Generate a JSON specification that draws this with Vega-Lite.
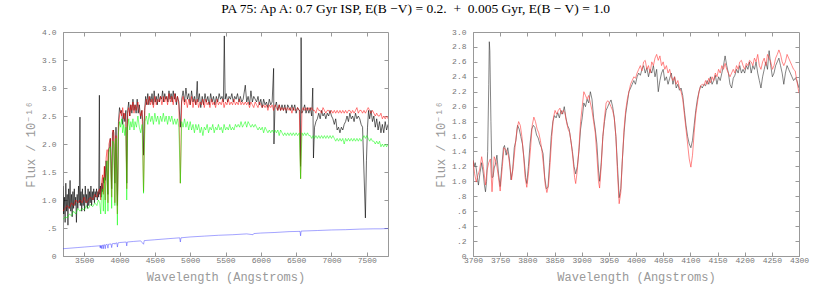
{
"$schema": "https://vega.github.io/schema/vega-lite/v6.json",
"autosize": {"type": "pad"},
"padding": {"left": 24, "top": 2, "right": 20, "bottom": 2},
"bounds": "flush",
"spacing": 85,
"title": {"text": "PA 75: Ap A: 0.7 Gyr ISP, E(B −V) = 0.2.\u00a0\u00a0+\u00a0\u00a00.005 Gyr, E(B − V) = 1.0", "anchor": "middle", "font": "Liberation Serif", "fontSize": 13.5, "fontWeight": "normal", "color": "#000", "offset": 12, "dx": -1},
"config": {
  "view": {"stroke": "#999", "strokeWidth": 1},
  "axis": {"domainColor": "#999", "tickColor": "#999", "tickSize": -4, "labelColor": "#777", "labelFont": "Liberation Mono", "labelFontSize": 8, "labelFlush": false, "labelOverlap": false, "grid": false, "titleFont": "Liberation Mono, DejaVu Sans Mono", "titleFontSize": 12, "titleFontWeight": "normal", "titleColor": "#999"}
},
"datasets": {
"obs": [
{"w":3200,"f":1.25},{"w":3210,"f":0.75},{"w":3220,"f":1.05},{"w":3230,"f":0.6},{"w":3240,"f":1.3},{"w":3250,"f":0.8},{"w":3260,"f":1.1},{"w":3270,"f":0.55},{"w":3280,"f":1.2},{"w":3290,"f":0.85},{"w":3300,"f":1.35},{"w":3310,"f":0.8},{"w":3320,"f":1.1},{"w":3330,"f":0.7},{"w":3340,"f":1.15},{"w":3350,"f":0.85},{"w":3360,"f":1.2},{"w":3370,"f":0.9},{"w":3380,"f":1.05},{"w":3390,"f":0.6},{"w":3400,"f":1.1},{"w":3410,"f":0.85},{"w":3420,"f":1.25},{"w":3430,"f":0.95},{"w":3440,"f":2.48},{"w":3445,"f":0.9},{"w":3455,"f":1.15},{"w":3465,"f":0.8},{"w":3475,"f":1.2},{"w":3485,"f":0.9},{"w":3495,"f":1.1},{"w":3505,"f":0.8},{"w":3515,"f":1.25},{"w":3525,"f":0.95},{"w":3535,"f":1.1},{"w":3545,"f":0.85},{"w":3555,"f":1.2},{"w":3565,"f":0.9},{"w":3575,"f":1.15},{"w":3585,"f":0.95},{"w":3595,"f":1.25},{"w":3605,"f":0.9},{"w":3615,"f":1.15},{"w":3625,"f":1.0},{"w":3635,"f":1.2},{"w":3645,"f":0.95},{"w":3655,"f":1.15},{"w":3665,"f":1.05},{"w":3675,"f":1.2},{"w":3685,"f":1.0},{"w":3695,"f":1.15},{"w":3705,"f":1.05},{"w":3715,"f":2.87},{"w":3720,"f":1.1},{"w":3730,"f":1.25},{"w":3740,"f":1.05},{"w":3750,"f":1.3},{"w":3760,"f":1.15},{"w":3770,"f":1.4},{"w":3780,"f":1.3},{"w":3790,"f":1.6},{"w":3800,"f":1.35},{"w":3810,"f":1.7},{"w":3820,"f":1.5},{"w":3835,"f":1.1},{"w":3845,"f":1.9},{"w":3860,"f":1.95},{"w":3870,"f":2.1},{"w":3889,"f":1.2},{"w":3900,"f":2.2},{"w":3915,"f":2.25},{"w":3934,"f":1.3},{"w":3950,"f":2.3},{"w":3970,"f":0.9},{"w":3985,"f":2.4},{"w":4000,"f":2.65},{"w":4015,"f":2.55},{"w":4030,"f":2.6},{"w":4045,"f":2.35},{"w":4060,"f":2.55},{"w":4075,"f":2.4},{"w":4090,"f":2.6},{"w":4102,"f":1.3},{"w":4115,"f":2.6},{"w":4130,"f":2.75},{"w":4145,"f":2.5},{"w":4160,"f":2.7},{"w":4175,"f":2.55},{"w":4190,"f":2.8},{"w":4205,"f":2.6},{"w":4220,"f":2.7},{"w":4235,"f":2.55},{"w":4250,"f":2.8},{"w":4265,"f":2.55},{"w":4280,"f":2.7},{"w":4300,"f":2.45},{"w":4315,"f":2.6},{"w":4330,"f":2.4},{"w":4340,"f":1.8},{"w":4355,"f":2.6},{"w":4370,"f":2.85},{"w":4385,"f":2.7},{"w":4400,"f":2.9},{"w":4415,"f":2.7},{"w":4430,"f":2.85},{"w":4445,"f":2.75},{"w":4460,"f":2.9},{"w":4475,"f":2.7},{"w":4490,"f":2.95},{"w":4505,"f":2.75},{"w":4520,"f":2.85},{"w":4535,"f":2.7},{"w":4550,"f":2.9},{"w":4565,"f":2.75},{"w":4580,"f":2.85},{"w":4595,"f":2.8},{"w":4610,"f":2.95},{"w":4625,"f":2.75},{"w":4640,"f":2.9},{"w":4655,"f":2.8},{"w":4670,"f":2.85},{"w":4685,"f":2.75},{"w":4700,"f":2.95},{"w":4715,"f":2.8},{"w":4730,"f":2.9},{"w":4745,"f":2.75},{"w":4760,"f":2.95},{"w":4775,"f":2.8},{"w":4790,"f":2.9},{"w":4805,"f":2.7},{"w":4820,"f":2.85},{"w":4840,"f":2.75},{"w":4861,"f":2.3},{"w":4880,"f":2.8},{"w":4900,"f":2.95},{"w":4920,"f":2.75},{"w":4940,"f":3.0},{"w":4960,"f":2.8},{"w":4980,"f":2.9},{"w":5000,"f":2.7},{"w":5020,"f":2.95},{"w":5040,"f":2.75},{"w":5060,"f":2.85},{"w":5080,"f":2.7},{"w":5100,"f":3.12},{"w":5110,"f":2.75},{"w":5130,"f":2.9},{"w":5150,"f":2.65},{"w":5170,"f":2.85},{"w":5190,"f":2.7},{"w":5210,"f":2.9},{"w":5230,"f":2.75},{"w":5250,"f":2.85},{"w":5270,"f":2.7},{"w":5290,"f":2.9},{"w":5310,"f":2.75},{"w":5330,"f":2.85},{"w":5350,"f":2.7},{"w":5370,"f":2.85},{"w":5390,"f":2.75},{"w":5410,"f":2.9},{"w":5430,"f":2.8},{"w":5450,"f":2.85},{"w":5470,"f":2.75},{"w":5483,"f":3.93},{"w":5495,"f":2.8},{"w":5510,"f":2.9},{"w":5530,"f":2.75},{"w":5550,"f":2.85},{"w":5570,"f":2.8},{"w":5590,"f":2.9},{"w":5610,"f":2.75},{"w":5630,"f":2.85},{"w":5650,"f":2.8},{"w":5670,"f":2.9},{"w":5690,"f":2.75},{"w":5710,"f":2.85},{"w":5730,"f":2.75},{"w":5750,"f":2.8},{"w":5780,"f":3.05},{"w":5800,"f":2.75},{"w":5820,"f":2.85},{"w":5840,"f":2.7},{"w":5860,"f":2.95},{"w":5880,"f":2.75},{"w":5900,"f":2.85},{"w":5920,"f":2.8},{"w":5940,"f":2.75},{"w":5960,"f":2.85},{"w":5980,"f":2.7},{"w":6000,"f":2.8},{"w":6020,"f":2.65},{"w":6040,"f":2.8},{"w":6060,"f":2.7},{"w":6080,"f":2.75},{"w":6100,"f":2.65},{"w":6120,"f":2.8},{"w":6140,"f":2.7},{"w":6160,"f":2.75},{"w":6181,"f":3.35},{"w":6186,"f":2.0},{"w":6200,"f":2.65},{"w":6220,"f":2.75},{"w":6240,"f":2.6},{"w":6260,"f":2.7},{"w":6280,"f":2.6},{"w":6300,"f":2.7},{"w":6320,"f":2.6},{"w":6340,"f":2.7},{"w":6360,"f":2.55},{"w":6380,"f":2.7},{"w":6400,"f":2.65},{"w":6420,"f":2.6},{"w":6440,"f":2.7},{"w":6460,"f":2.6},{"w":6480,"f":2.7},{"w":6500,"f":2.55},{"w":6520,"f":2.65},{"w":6540,"f":2.6},{"w":6552,"f":2.6},{"w":6562,"f":1.6},{"w":6570,"f":3.9},{"w":6580,"f":2.55},{"w":6600,"f":2.6},{"w":6620,"f":2.7},{"w":6640,"f":2.55},{"w":6660,"f":2.65},{"w":6680,"f":2.55},{"w":6700,"f":2.65},{"w":6720,"f":2.5},{"w":6735,"f":3.0},{"w":6745,"f":1.75},{"w":6760,"f":2.3},{"w":6780,"f":2.4},{"w":6800,"f":2.45},{"w":6820,"f":2.55},{"w":6840,"f":2.45},{"w":6860,"f":2.6},{"w":6880,"f":2.5},{"w":6900,"f":2.55},{"w":6920,"f":2.45},{"w":6940,"f":2.55},{"w":6960,"f":2.5},{"w":6980,"f":2.6},{"w":7000,"f":2.5},{"w":7020,"f":2.45},{"w":7040,"f":2.35},{"w":7060,"f":2.45},{"w":7080,"f":2.25},{"w":7100,"f":2.3},{"w":7120,"f":2.2},{"w":7140,"f":2.3},{"w":7160,"f":2.25},{"w":7180,"f":2.35},{"w":7200,"f":2.4},{"w":7220,"f":2.5},{"w":7240,"f":2.4},{"w":7260,"f":2.55},{"w":7280,"f":2.45},{"w":7300,"f":2.5},{"w":7320,"f":2.4},{"w":7340,"f":2.55},{"w":7360,"f":2.45},{"w":7380,"f":2.5},{"w":7400,"f":2.45},{"w":7420,"f":2.35},{"w":7440,"f":2.3},{"w":7460,"f":1.5},{"w":7480,"f":0.68},{"w":7495,"f":1.7},{"w":7510,"f":2.3},{"w":7525,"f":2.6},{"w":7540,"f":2.45},{"w":7560,"f":2.6},{"w":7580,"f":2.4},{"w":7600,"f":2.5},{"w":7620,"f":2.3},{"w":7640,"f":2.45},{"w":7660,"f":2.25},{"w":7680,"f":2.4},{"w":7700,"f":2.2},{"w":7720,"f":2.35},{"w":7740,"f":2.2},{"w":7760,"f":2.4},{"w":7780,"f":2.25},{"w":7800,"f":2.35}
],
"mod": [
{"w":3200,"f":0.8},{"w":3230,"f":0.85},{"w":3260,"f":0.9},{"w":3290,"f":0.85},{"w":3320,"f":0.95},{"w":3350,"f":0.9},{"w":3380,"f":1.0},{"w":3410,"f":0.95},{"w":3440,"f":1.0},{"w":3470,"f":0.95},{"w":3500,"f":1.05},{"w":3530,"f":0.95},{"w":3560,"f":1.0},{"w":3590,"f":1.05},{"w":3620,"f":1.0},{"w":3650,"f":1.1},{"w":3680,"f":1.05},{"w":3700,"f":1.15},{"w":3720,"f":1.2},{"w":3734,"f":1.0},{"w":3745,"f":1.3},{"w":3760,"f":1.45},{"w":3771,"f":1.1},{"w":3785,"f":1.6},{"w":3798,"f":1.0},{"w":3810,"f":1.75},{"w":3825,"f":1.9},{"w":3836,"f":0.95},{"w":3850,"f":2.0},{"w":3870,"f":2.1},{"w":3889,"f":1.05},{"w":3905,"f":2.25},{"w":3920,"f":2.2},{"w":3934,"f":0.95},{"w":3950,"f":2.15},{"w":3970,"f":0.75},{"w":3985,"f":2.3},{"w":4000,"f":2.5},{"w":4015,"f":2.6},{"w":4030,"f":2.5},{"w":4045,"f":2.65},{"w":4060,"f":2.45},{"w":4075,"f":2.55},{"w":4090,"f":2.4},{"w":4102,"f":1.2},{"w":4115,"f":2.55},{"w":4130,"f":2.65},{"w":4145,"f":2.5},{"w":4160,"f":2.7},{"w":4175,"f":2.6},{"w":4190,"f":2.75},{"w":4205,"f":2.55},{"w":4220,"f":2.7},{"w":4240,"f":2.6},{"w":4260,"f":2.75},{"w":4280,"f":2.6},{"w":4300,"f":2.5},{"w":4320,"f":2.6},{"w":4340,"f":1.15},{"w":4360,"f":2.65},{"w":4380,"f":2.8},{"w":4400,"f":2.7},{"w":4420,"f":2.85},{"w":4440,"f":2.7},{"w":4460,"f":2.8},{"w":4480,"f":2.65},{"w":4500,"f":2.85},{"w":4520,"f":2.7},{"w":4540,"f":2.8},{"w":4560,"f":2.75},{"w":4580,"f":2.85},{"w":4600,"f":2.7},{"w":4620,"f":2.85},{"w":4640,"f":2.75},{"w":4660,"f":2.85},{"w":4680,"f":2.7},{"w":4700,"f":2.9},{"w":4720,"f":2.75},{"w":4740,"f":2.85},{"w":4760,"f":2.7},{"w":4780,"f":2.9},{"w":4800,"f":2.75},{"w":4820,"f":2.85},{"w":4840,"f":2.7},{"w":4861,"f":1.3},{"w":4880,"f":2.75},{"w":4900,"f":2.85},{"w":4920,"f":2.7},{"w":4940,"f":2.8},{"w":4960,"f":2.65},{"w":4980,"f":2.8},{"w":5000,"f":2.7},{"w":5020,"f":2.85},{"w":5040,"f":2.65},{"w":5060,"f":2.8},{"w":5080,"f":2.7},{"w":5100,"f":2.8},{"w":5120,"f":2.65},{"w":5140,"f":2.75},{"w":5160,"f":2.7},{"w":5180,"f":2.8},{"w":5200,"f":2.65},{"w":5220,"f":2.8},{"w":5240,"f":2.7},{"w":5260,"f":2.75},{"w":5280,"f":2.65},{"w":5300,"f":2.8},{"w":5320,"f":2.7},{"w":5340,"f":2.75},{"w":5360,"f":2.65},{"w":5380,"f":2.8},{"w":5400,"f":2.7},{"w":5420,"f":2.75},{"w":5440,"f":2.7},{"w":5460,"f":2.8},{"w":5480,"f":2.65},{"w":5500,"f":2.75},{"w":5520,"f":2.7},{"w":5540,"f":2.8},{"w":5560,"f":2.7},{"w":5580,"f":2.75},{"w":5600,"f":2.7},{"w":5620,"f":2.8},{"w":5640,"f":2.7},{"w":5660,"f":2.75},{"w":5680,"f":2.7},{"w":5700,"f":2.8},{"w":5720,"f":2.7},{"w":5740,"f":2.75},{"w":5760,"f":2.7},{"w":5780,"f":2.75},{"w":5800,"f":2.7},{"w":5820,"f":2.75},{"w":5840,"f":2.65},{"w":5860,"f":2.75},{"w":5880,"f":2.7},{"w":5900,"f":2.65},{"w":5920,"f":2.75},{"w":5940,"f":2.7},{"w":5960,"f":2.65},{"w":5980,"f":2.75},{"w":6000,"f":2.7},{"w":6020,"f":2.65},{"w":6040,"f":2.7},{"w":6060,"f":2.65},{"w":6080,"f":2.7},{"w":6100,"f":2.6},{"w":6120,"f":2.7},{"w":6140,"f":2.65},{"w":6160,"f":2.7},{"w":6180,"f":2.6},{"w":6200,"f":2.7},{"w":6220,"f":2.65},{"w":6240,"f":2.6},{"w":6260,"f":2.7},{"w":6280,"f":2.6},{"w":6300,"f":2.65},{"w":6320,"f":2.6},{"w":6340,"f":2.65},{"w":6360,"f":2.6},{"w":6380,"f":2.65},{"w":6400,"f":2.6},{"w":6420,"f":2.65},{"w":6440,"f":2.55},{"w":6460,"f":2.65},{"w":6480,"f":2.6},{"w":6500,"f":2.6},{"w":6520,"f":2.65},{"w":6545,"f":2.6},{"w":6563,"f":1.38},{"w":6582,"f":2.6},{"w":6600,"f":2.65},{"w":6620,"f":2.6},{"w":6640,"f":2.65},{"w":6660,"f":2.6},{"w":6680,"f":2.65},{"w":6700,"f":2.6},{"w":6720,"f":2.65},{"w":6740,"f":2.6},{"w":6760,"f":2.6},{"w":6780,"f":2.55},{"w":6800,"f":2.65},{"w":6820,"f":2.6},{"w":6840,"f":2.6},{"w":6860,"f":2.55},{"w":6880,"f":2.65},{"w":6900,"f":2.6},{"w":6920,"f":2.55},{"w":6940,"f":2.6},{"w":6960,"f":2.6},{"w":6980,"f":2.55},{"w":7000,"f":2.6},{"w":7020,"f":2.55},{"w":7040,"f":2.6},{"w":7060,"f":2.55},{"w":7080,"f":2.6},{"w":7100,"f":2.55},{"w":7120,"f":2.6},{"w":7140,"f":2.55},{"w":7160,"f":2.6},{"w":7180,"f":2.55},{"w":7200,"f":2.6},{"w":7220,"f":2.55},{"w":7240,"f":2.6},{"w":7260,"f":2.6},{"w":7280,"f":2.55},{"w":7300,"f":2.6},{"w":7320,"f":2.55},{"w":7340,"f":2.6},{"w":7360,"f":2.65},{"w":7380,"f":2.55},{"w":7400,"f":2.6},{"w":7420,"f":2.6},{"w":7440,"f":2.55},{"w":7460,"f":2.6},{"w":7480,"f":2.55},{"w":7500,"f":2.6},{"w":7520,"f":2.65},{"w":7540,"f":2.6},{"w":7560,"f":2.55},{"w":7580,"f":2.6},{"w":7600,"f":2.55},{"w":7620,"f":2.5},{"w":7640,"f":2.55},{"w":7660,"f":2.5},{"w":7680,"f":2.5},{"w":7700,"f":2.55},{"w":7720,"f":2.45},{"w":7740,"f":2.5},{"w":7760,"f":2.45},{"w":7780,"f":2.5},{"w":7800,"f":2.45}
],
"old": [
{"w":3200,"f":0.65},{"w":3230,"f":0.7},{"w":3260,"f":0.68},{"w":3290,"f":0.75},{"w":3320,"f":0.72},{"w":3350,"f":0.8},{"w":3380,"f":0.75},{"w":3410,"f":0.85},{"w":3440,"f":0.8},{"w":3470,"f":0.85},{"w":3500,"f":0.82},{"w":3530,"f":0.9},{"w":3560,"f":0.85},{"w":3590,"f":0.92},{"w":3620,"f":0.88},{"w":3650,"f":0.95},{"w":3680,"f":0.9},{"w":3700,"f":1.0},{"w":3720,"f":0.95},{"w":3734,"f":0.75},{"w":3745,"f":1.1},{"w":3760,"f":1.2},{"w":3771,"f":0.8},{"w":3785,"f":1.4},{"w":3798,"f":0.75},{"w":3810,"f":1.5},{"w":3825,"f":1.7},{"w":3836,"f":0.8},{"w":3850,"f":1.85},{"w":3870,"f":1.95},{"w":3889,"f":0.85},{"w":3905,"f":2.05},{"w":3920,"f":2.0},{"w":3934,"f":0.9},{"w":3950,"f":2.1},{"w":3970,"f":0.55},{"w":3985,"f":2.2},{"w":4000,"f":2.4},{"w":4015,"f":2.3},{"w":4030,"f":2.45},{"w":4045,"f":2.2},{"w":4060,"f":2.35},{"w":4075,"f":2.15},{"w":4090,"f":2.3},{"w":4102,"f":1.0},{"w":4115,"f":2.3},{"w":4130,"f":2.45},{"w":4145,"f":2.25},{"w":4160,"f":2.4},{"w":4175,"f":2.3},{"w":4190,"f":2.45},{"w":4205,"f":2.25},{"w":4220,"f":2.4},{"w":4240,"f":2.3},{"w":4260,"f":2.5},{"w":4280,"f":2.3},{"w":4300,"f":2.2},{"w":4320,"f":2.35},{"w":4340,"f":1.12},{"w":4360,"f":2.4},{"w":4380,"f":2.5},{"w":4400,"f":2.35},{"w":4420,"f":2.55},{"w":4440,"f":2.4},{"w":4460,"f":2.5},{"w":4480,"f":2.35},{"w":4500,"f":2.55},{"w":4520,"f":2.4},{"w":4540,"f":2.5},{"w":4560,"f":2.35},{"w":4580,"f":2.5},{"w":4600,"f":2.4},{"w":4620,"f":2.55},{"w":4640,"f":2.4},{"w":4660,"f":2.5},{"w":4680,"f":2.35},{"w":4700,"f":2.5},{"w":4720,"f":2.4},{"w":4740,"f":2.5},{"w":4760,"f":2.35},{"w":4780,"f":2.45},{"w":4800,"f":2.35},{"w":4820,"f":2.45},{"w":4840,"f":2.3},{"w":4861,"f":1.3},{"w":4880,"f":2.4},{"w":4900,"f":2.3},{"w":4920,"f":2.45},{"w":4940,"f":2.3},{"w":4960,"f":2.4},{"w":4980,"f":2.25},{"w":5000,"f":2.4},{"w":5020,"f":2.25},{"w":5040,"f":2.35},{"w":5060,"f":2.2},{"w":5080,"f":2.35},{"w":5100,"f":2.25},{"w":5120,"f":2.35},{"w":5140,"f":2.2},{"w":5160,"f":2.3},{"w":5180,"f":2.15},{"w":5200,"f":2.3},{"w":5220,"f":2.25},{"w":5240,"f":2.35},{"w":5260,"f":2.2},{"w":5280,"f":2.3},{"w":5300,"f":2.25},{"w":5320,"f":2.35},{"w":5340,"f":2.2},{"w":5360,"f":2.3},{"w":5380,"f":2.25},{"w":5400,"f":2.35},{"w":5420,"f":2.25},{"w":5440,"f":2.3},{"w":5460,"f":2.2},{"w":5480,"f":2.35},{"w":5500,"f":2.25},{"w":5520,"f":2.3},{"w":5540,"f":2.25},{"w":5560,"f":2.35},{"w":5580,"f":2.25},{"w":5600,"f":2.3},{"w":5620,"f":2.25},{"w":5640,"f":2.35},{"w":5660,"f":2.3},{"w":5680,"f":2.35},{"w":5700,"f":2.3},{"w":5720,"f":2.4},{"w":5740,"f":2.3},{"w":5760,"f":2.35},{"w":5780,"f":2.4},{"w":5800,"f":2.3},{"w":5820,"f":2.4},{"w":5840,"f":2.35},{"w":5860,"f":2.3},{"w":5880,"f":2.35},{"w":5900,"f":2.3},{"w":5920,"f":2.35},{"w":5940,"f":2.3},{"w":5960,"f":2.25},{"w":5980,"f":2.3},{"w":6000,"f":2.25},{"w":6020,"f":2.3},{"w":6040,"f":2.2},{"w":6060,"f":2.3},{"w":6080,"f":2.25},{"w":6100,"f":2.2},{"w":6120,"f":2.25},{"w":6140,"f":2.2},{"w":6160,"f":2.25},{"w":6180,"f":2.2},{"w":6200,"f":2.25},{"w":6220,"f":2.2},{"w":6240,"f":2.25},{"w":6260,"f":2.15},{"w":6280,"f":2.25},{"w":6300,"f":2.2},{"w":6320,"f":2.15},{"w":6340,"f":2.2},{"w":6360,"f":2.15},{"w":6380,"f":2.2},{"w":6400,"f":2.15},{"w":6420,"f":2.2},{"w":6440,"f":2.15},{"w":6460,"f":2.2},{"w":6480,"f":2.15},{"w":6500,"f":2.2},{"w":6520,"f":2.15},{"w":6545,"f":2.2},{"w":6563,"f":1.38},{"w":6582,"f":2.2},{"w":6600,"f":2.15},{"w":6620,"f":2.2},{"w":6640,"f":2.15},{"w":6660,"f":2.2},{"w":6680,"f":2.15},{"w":6700,"f":2.15},{"w":6720,"f":2.1},{"w":6740,"f":2.15},{"w":6760,"f":2.1},{"w":6780,"f":2.15},{"w":6800,"f":2.1},{"w":6820,"f":2.15},{"w":6840,"f":2.1},{"w":6860,"f":2.15},{"w":6880,"f":2.1},{"w":6900,"f":2.15},{"w":6920,"f":2.1},{"w":6940,"f":2.15},{"w":6960,"f":2.1},{"w":6980,"f":2.15},{"w":7000,"f":2.1},{"w":7020,"f":2.15},{"w":7040,"f":2.1},{"w":7060,"f":2.05},{"w":7080,"f":2.1},{"w":7100,"f":2.05},{"w":7120,"f":2.1},{"w":7140,"f":2.05},{"w":7160,"f":2.1},{"w":7180,"f":2.0},{"w":7200,"f":2.1},{"w":7220,"f":2.05},{"w":7240,"f":2.1},{"w":7260,"f":2.05},{"w":7280,"f":2.1},{"w":7300,"f":2.05},{"w":7320,"f":2.1},{"w":7340,"f":2.05},{"w":7360,"f":2.1},{"w":7380,"f":2.05},{"w":7400,"f":2.1},{"w":7420,"f":2.05},{"w":7440,"f":2.1},{"w":7460,"f":2.15},{"w":7480,"f":2.1},{"w":7500,"f":2.15},{"w":7520,"f":2.1},{"w":7540,"f":2.05},{"w":7560,"f":2.1},{"w":7580,"f":2.05},{"w":7600,"f":2.05},{"w":7620,"f":2.0},{"w":7640,"f":2.05},{"w":7660,"f":2.0},{"w":7680,"f":2.05},{"w":7700,"f":1.95},{"w":7720,"f":2.0},{"w":7740,"f":1.95},{"w":7760,"f":2.0},{"w":7780,"f":1.95},{"w":7800,"f":2.0}
],
"yng": [
{"w":3200,"f":0.13},{"w":3300,"f":0.14},{"w":3400,"f":0.15},{"w":3500,"f":0.16},{"w":3600,"f":0.17},{"w":3700,"f":0.18},{"w":3720,"f":0.185},{"w":3725,"f":0.15},{"w":3730,"f":0.185},{"w":3735,"f":0.14},{"w":3740,"f":0.19},{"w":3750,"f":0.13},{"w":3755,"f":0.19},{"w":3765,"f":0.195},{"w":3771,"f":0.13},{"w":3777,"f":0.2},{"w":3790,"f":0.2},{"w":3798,"f":0.13},{"w":3805,"f":0.2},{"w":3825,"f":0.21},{"w":3836,"f":0.14},{"w":3845,"f":0.21},{"w":3880,"f":0.215},{"w":3889,"f":0.15},{"w":3898,"f":0.22},{"w":3930,"f":0.225},{"w":3935,"f":0.21},{"w":3945,"f":0.23},{"w":3962,"f":0.235},{"w":3970,"f":0.16},{"w":3980,"f":0.235},{"w":4000,"f":0.24},{"w":4050,"f":0.245},{"w":4095,"f":0.25},{"w":4102,"f":0.18},{"w":4110,"f":0.25},{"w":4200,"f":0.26},{"w":4300,"f":0.27},{"w":4340,"f":0.21},{"w":4350,"f":0.275},{"w":4500,"f":0.29},{"w":4600,"f":0.3},{"w":4700,"f":0.31},{"w":4800,"f":0.32},{"w":4852,"f":0.325},{"w":4861,"f":0.25},{"w":4870,"f":0.325},{"w":5000,"f":0.34},{"w":5200,"f":0.355},{"w":5400,"f":0.37},{"w":5600,"f":0.38},{"w":5800,"f":0.395},{"w":5890,"f":0.38},{"w":5900,"f":0.4},{"w":6000,"f":0.41},{"w":6200,"f":0.42},{"w":6400,"f":0.435},{"w":6555,"f":0.44},{"w":6563,"f":0.36},{"w":6570,"f":0.445},{"w":6800,"f":0.455},{"w":7000,"f":0.465},{"w":7200,"f":0.47},{"w":7400,"f":0.48},{"w":7600,"f":0.485},{"w":7700,"f":0.485},{"w":7800,"f":0.49}
],
"obsz": [
{"w":3700,"f":1.28},{"w":3702,"f":1.2},{"w":3704,"f":1.25},{"w":3706,"f":1.17},{"w":3708,"f":1.05},{"w":3710,"f":0.95},{"w":3713,"f":1.12},{"w":3716,"f":1.25},{"w":3719,"f":1.1},{"w":3721,"f":0.95},{"w":3723,"f":0.86},{"w":3725,"f":1.0},{"w":3727,"f":1.4},{"w":3729,"f":2.3},{"w":3730,"f":2.87},{"w":3731,"f":2.75},{"w":3733,"f":1.8},{"w":3735,"f":1.05},{"w":3737,"f":1.06},{"w":3739,"f":1.18},{"w":3741,"f":1.22},{"w":3744,"f":1.35},{"w":3747,"f":1.1},{"w":3750,"f":0.93},{"w":3753,"f":1.2},{"w":3756,"f":1.45},{"w":3758,"f":1.48},{"w":3761,"f":1.35},{"w":3764,"f":1.45},{"w":3767,"f":1.3},{"w":3770,"f":1.02},{"w":3773,"f":1.15},{"w":3776,"f":1.45},{"w":3779,"f":1.55},{"w":3782,"f":1.75},{"w":3785,"f":1.7},{"w":3788,"f":1.6},{"w":3791,"f":1.5},{"w":3794,"f":1.3},{"w":3797,"f":1.05},{"w":3799,"f":0.97},{"w":3802,"f":1.2},{"w":3805,"f":1.5},{"w":3808,"f":1.7},{"w":3811,"f":1.75},{"w":3814,"f":1.72},{"w":3817,"f":1.62},{"w":3820,"f":1.58},{"w":3823,"f":1.5},{"w":3826,"f":1.45},{"w":3829,"f":1.37},{"w":3832,"f":1.05},{"w":3835,"f":0.9},{"w":3838,"f":0.92},{"w":3841,"f":1.25},{"w":3844,"f":1.6},{"w":3847,"f":1.8},{"w":3850,"f":1.88},{"w":3853,"f":1.85},{"w":3856,"f":1.92},{"w":3859,"f":1.85},{"w":3862,"f":1.95},{"w":3865,"f":1.9},{"w":3868,"f":2.0},{"w":3871,"f":1.85},{"w":3874,"f":1.75},{"w":3877,"f":1.7},{"w":3880,"f":1.55},{"w":3883,"f":1.4},{"w":3886,"f":1.2},{"w":3889,"f":1.1},{"w":3892,"f":1.2},{"w":3895,"f":1.4},{"w":3898,"f":1.7},{"w":3901,"f":1.85},{"w":3904,"f":2.05},{"w":3907,"f":2.0},{"w":3910,"f":2.1},{"w":3913,"f":2.05},{"w":3916,"f":2.2},{"w":3919,"f":2.1},{"w":3922,"f":1.85},{"w":3925,"f":1.7},{"w":3928,"f":1.5},{"w":3931,"f":1.15},{"w":3933,"f":1.0},{"w":3936,"f":1.25},{"w":3939,"f":1.6},{"w":3942,"f":1.8},{"w":3945,"f":1.95},{"w":3948,"f":2.0},{"w":3951,"f":2.05},{"w":3954,"f":2.09},{"w":3957,"f":2.0},{"w":3960,"f":1.85},{"w":3963,"f":1.6},{"w":3966,"f":1.2},{"w":3969,"f":0.78},{"w":3972,"f":0.9},{"w":3975,"f":1.3},{"w":3978,"f":1.65},{"w":3981,"f":1.9},{"w":3984,"f":2.05},{"w":3987,"f":2.2},{"w":3990,"f":2.25},{"w":3993,"f":2.3},{"w":3996,"f":2.35},{"w":3999,"f":2.3},{"w":4002,"f":2.4},{"w":4005,"f":2.45},{"w":4008,"f":2.42},{"w":4011,"f":2.5},{"w":4014,"f":2.55},{"w":4017,"f":2.45},{"w":4020,"f":2.52},{"w":4023,"f":2.4},{"w":4026,"f":2.5},{"w":4029,"f":2.45},{"w":4032,"f":2.55},{"w":4035,"f":2.4},{"w":4038,"f":2.5},{"w":4041,"f":2.2},{"w":4044,"f":2.35},{"w":4047,"f":2.45},{"w":4050,"f":2.5},{"w":4053,"f":2.35},{"w":4056,"f":2.4},{"w":4059,"f":2.3},{"w":4062,"f":2.38},{"w":4065,"f":2.45},{"w":4068,"f":2.3},{"w":4071,"f":2.4},{"w":4074,"f":2.25},{"w":4077,"f":2.3},{"w":4080,"f":2.22},{"w":4083,"f":2.25},{"w":4086,"f":2.15},{"w":4089,"f":1.95},{"w":4092,"f":1.75},{"w":4095,"f":1.6},{"w":4098,"f":1.5},{"w":4101,"f":1.45},{"w":4104,"f":1.55},{"w":4107,"f":1.75},{"w":4110,"f":1.95},{"w":4113,"f":2.1},{"w":4116,"f":2.2},{"w":4119,"f":2.28},{"w":4122,"f":2.25},{"w":4125,"f":2.3},{"w":4128,"f":2.28},{"w":4131,"f":2.35},{"w":4134,"f":2.3},{"w":4137,"f":2.4},{"w":4140,"f":2.3},{"w":4143,"f":2.35},{"w":4146,"f":2.42},{"w":4149,"f":2.3},{"w":4152,"f":2.4},{"w":4155,"f":2.35},{"w":4158,"f":2.45},{"w":4161,"f":2.55},{"w":4164,"f":2.68},{"w":4167,"f":2.55},{"w":4170,"f":2.45},{"w":4173,"f":2.3},{"w":4176,"f":2.25},{"w":4179,"f":2.38},{"w":4182,"f":2.42},{"w":4185,"f":2.5},{"w":4188,"f":2.45},{"w":4191,"f":2.55},{"w":4194,"f":2.45},{"w":4197,"f":2.5},{"w":4200,"f":2.45},{"w":4203,"f":2.55},{"w":4206,"f":2.5},{"w":4209,"f":2.6},{"w":4212,"f":2.45},{"w":4215,"f":2.55},{"w":4218,"f":2.5},{"w":4221,"f":2.6},{"w":4224,"f":2.45},{"w":4227,"f":2.35},{"w":4230,"f":2.25},{"w":4233,"f":2.4},{"w":4236,"f":2.5},{"w":4239,"f":2.6},{"w":4242,"f":2.5},{"w":4245,"f":2.75},{"w":4248,"f":2.55},{"w":4251,"f":2.4},{"w":4254,"f":2.45},{"w":4257,"f":2.55},{"w":4260,"f":2.6},{"w":4263,"f":2.65},{"w":4266,"f":2.55},{"w":4269,"f":2.45},{"w":4272,"f":2.3},{"w":4275,"f":2.45},{"w":4278,"f":2.55},{"w":4281,"f":2.5},{"w":4284,"f":2.45},{"w":4287,"f":2.4},{"w":4290,"f":2.35},{"w":4293,"f":2.38},{"w":4296,"f":2.35},{"w":4300,"f":2.25}
],
"modz": [
{"w":3700,"f":1.28},{"w":3703,"f":1.1},{"w":3706,"f":0.99},{"w":3709,"f":1.08},{"w":3712,"f":1.15},{"w":3716,"f":1.33},{"w":3719,"f":1.2},{"w":3723,"f":0.95},{"w":3726,"f":1.15},{"w":3729,"f":1.25},{"w":3732,"f":1.3},{"w":3735,"f":0.86},{"w":3739,"f":1.33},{"w":3743,"f":1.25},{"w":3747,"f":1.05},{"w":3750,"f":0.87},{"w":3754,"f":1.2},{"w":3757,"f":1.45},{"w":3761,"f":1.42},{"w":3765,"f":1.35},{"w":3768,"f":1.2},{"w":3771,"f":1.02},{"w":3774,"f":1.2},{"w":3778,"f":1.5},{"w":3781,"f":1.7},{"w":3784,"f":1.8},{"w":3787,"f":1.75},{"w":3790,"f":1.6},{"w":3793,"f":1.35},{"w":3796,"f":1.05},{"w":3799,"f":0.92},{"w":3802,"f":1.1},{"w":3806,"f":1.45},{"w":3809,"f":1.75},{"w":3812,"f":1.86},{"w":3815,"f":1.8},{"w":3818,"f":1.7},{"w":3821,"f":1.65},{"w":3824,"f":1.55},{"w":3827,"f":1.4},{"w":3830,"f":1.2},{"w":3833,"f":0.95},{"w":3836,"f":0.85},{"w":3839,"f":0.95},{"w":3842,"f":1.25},{"w":3845,"f":1.6},{"w":3848,"f":1.85},{"w":3851,"f":1.95},{"w":3854,"f":1.9},{"w":3857,"f":1.95},{"w":3860,"f":1.98},{"w":3863,"f":1.9},{"w":3866,"f":1.95},{"w":3869,"f":1.92},{"w":3872,"f":1.8},{"w":3875,"f":1.7},{"w":3878,"f":1.65},{"w":3881,"f":1.5},{"w":3884,"f":1.3},{"w":3887,"f":1.05},{"w":3889,"f":0.97},{"w":3892,"f":1.15},{"w":3895,"f":1.45},{"w":3898,"f":1.8},{"w":3901,"f":2.0},{"w":3904,"f":2.2},{"w":3907,"f":2.15},{"w":3910,"f":2.1},{"w":3913,"f":2.15},{"w":3916,"f":2.05},{"w":3919,"f":1.95},{"w":3922,"f":1.8},{"w":3925,"f":1.65},{"w":3928,"f":1.35},{"w":3931,"f":1.0},{"w":3933,"f":0.91},{"w":3936,"f":1.2},{"w":3939,"f":1.6},{"w":3942,"f":1.85},{"w":3945,"f":2.05},{"w":3948,"f":2.08},{"w":3951,"f":2.05},{"w":3954,"f":2.0},{"w":3957,"f":1.95},{"w":3960,"f":1.85},{"w":3963,"f":1.6},{"w":3966,"f":1.1},{"w":3969,"f":0.7},{"w":3972,"f":0.85},{"w":3975,"f":1.3},{"w":3978,"f":1.7},{"w":3981,"f":1.95},{"w":3984,"f":2.1},{"w":3987,"f":2.2},{"w":3990,"f":2.3},{"w":3993,"f":2.35},{"w":3996,"f":2.4},{"w":3999,"f":2.38},{"w":4002,"f":2.45},{"w":4005,"f":2.5},{"w":4008,"f":2.55},{"w":4011,"f":2.48},{"w":4014,"f":2.6},{"w":4017,"f":2.62},{"w":4020,"f":2.5},{"w":4023,"f":2.55},{"w":4026,"f":2.45},{"w":4029,"f":2.6},{"w":4032,"f":2.55},{"w":4035,"f":2.65},{"w":4038,"f":2.7},{"w":4041,"f":2.62},{"w":4044,"f":2.68},{"w":4047,"f":2.55},{"w":4050,"f":2.6},{"w":4053,"f":2.5},{"w":4056,"f":2.55},{"w":4059,"f":2.45},{"w":4062,"f":2.5},{"w":4065,"f":2.4},{"w":4068,"f":2.35},{"w":4071,"f":2.4},{"w":4074,"f":2.3},{"w":4077,"f":2.35},{"w":4080,"f":2.25},{"w":4083,"f":2.2},{"w":4086,"f":2.1},{"w":4089,"f":1.9},{"w":4092,"f":1.7},{"w":4095,"f":1.5},{"w":4098,"f":1.3},{"w":4101,"f":1.19},{"w":4104,"f":1.35},{"w":4107,"f":1.65},{"w":4110,"f":1.9},{"w":4113,"f":2.05},{"w":4116,"f":2.2},{"w":4119,"f":2.28},{"w":4122,"f":2.3},{"w":4125,"f":2.28},{"w":4128,"f":2.35},{"w":4131,"f":2.3},{"w":4134,"f":2.38},{"w":4137,"f":2.32},{"w":4140,"f":2.4},{"w":4143,"f":2.35},{"w":4146,"f":2.45},{"w":4149,"f":2.4},{"w":4152,"f":2.5},{"w":4155,"f":2.45},{"w":4158,"f":2.55},{"w":4161,"f":2.5},{"w":4164,"f":2.58},{"w":4167,"f":2.5},{"w":4170,"f":2.45},{"w":4173,"f":2.4},{"w":4176,"f":2.45},{"w":4179,"f":2.5},{"w":4182,"f":2.45},{"w":4185,"f":2.55},{"w":4188,"f":2.5},{"w":4191,"f":2.6},{"w":4194,"f":2.62},{"w":4197,"f":2.55},{"w":4200,"f":2.5},{"w":4203,"f":2.58},{"w":4206,"f":2.55},{"w":4209,"f":2.62},{"w":4212,"f":2.6},{"w":4215,"f":2.55},{"w":4218,"f":2.65},{"w":4221,"f":2.6},{"w":4224,"f":2.7},{"w":4227,"f":2.55},{"w":4230,"f":2.5},{"w":4233,"f":2.6},{"w":4236,"f":2.65},{"w":4239,"f":2.55},{"w":4242,"f":2.7},{"w":4245,"f":2.65},{"w":4248,"f":2.6},{"w":4251,"f":2.5},{"w":4254,"f":2.55},{"w":4257,"f":2.65},{"w":4260,"f":2.7},{"w":4263,"f":2.76},{"w":4266,"f":2.7},{"w":4269,"f":2.6},{"w":4272,"f":2.55},{"w":4275,"f":2.6},{"w":4278,"f":2.7},{"w":4281,"f":2.65},{"w":4284,"f":2.6},{"w":4287,"f":2.55},{"w":4290,"f":2.5},{"w":4293,"f":2.48},{"w":4296,"f":2.35},{"w":4300,"f":2.18}
]
},
"hconcat": [
{
  "width": 325, "height": 224,
  "layer": [
    {"data": {"name": "obs"}, "mark": {"type": "line", "color": "#000", "strokeWidth": 0.6, "clip": true},
     "encoding": {
       "x": {"field": "w", "type": "quantitative", "scale": {"domain": [3200, 7800], "nice": false, "zero": false},
             "axis": {"values": [3500,4000,4500,5000,5500,6000,6500,7000,7500], "format": "d", "title": "Wavelength (Angstroms)", "labelPadding": 4, "titlePadding": 7}},
       "y": {"field": "f", "type": "quantitative", "scale": {"domain": [0, 4], "nice": false, "zero": false},
             "axis": {"values": [0,0.5,1,1.5,2,2.5,3,3.5,4], "labelExpr": "datum.value == 0 ? '0' : (datum.value < 1 ? replace(format(datum.value, '.1f'), '0.', '.') : format(datum.value, '.1f'))", "title": "Flux / 10⁻¹⁶", "labelPadding": 11, "titlePadding": 4}}
     }},
    {"data": {"name": "mod"}, "mark": {"type": "line", "color": "#ff0000", "strokeWidth": 0.6, "opacity": 0.85, "clip": true},
     "encoding": {"x": {"field": "w", "type": "quantitative", "axis": null}, "y": {"field": "f", "type": "quantitative", "axis": null}}},
    {"data": {"name": "old"}, "mark": {"type": "line", "color": "#00ff00", "strokeWidth": 0.6, "opacity": 0.85, "clip": true},
     "encoding": {"x": {"field": "w", "type": "quantitative", "axis": null}, "y": {"field": "f", "type": "quantitative", "axis": null}}},
    {"data": {"name": "yng"}, "mark": {"type": "line", "color": "#3333ff", "strokeWidth": 0.6, "opacity": 0.75, "clip": true},
     "encoding": {"x": {"field": "w", "type": "quantitative", "axis": null}, "y": {"field": "f", "type": "quantitative", "axis": null}}},
    {"data": {"name": "yng"}, "mark": {"type": "line", "opacity": 0},
     "encoding": {
       "x": {"field": "w", "type": "quantitative", "axis": {"orient": "top", "labels": false, "title": null, "domain": false, "values": [3500,4000,4500,5000,5500,6000,6500,7000,7500]}},
       "y": {"field": "f", "type": "quantitative", "axis": {"orient": "right", "labels": false, "title": null, "domain": false, "values": [0.5,1,1.5,2,2.5,3,3.5]}}
     }}
  ],
  "resolve": {"axis": {"x": "independent", "y": "independent"}}
},
{
  "width": 326, "height": 224,
  "layer": [
    {"data": {"name": "obsz"}, "mark": {"type": "line", "color": "#333", "strokeWidth": 0.8, "opacity": 0.75, "clip": true},
     "encoding": {
       "x": {"field": "w", "type": "quantitative", "scale": {"domain": [3700, 4300], "nice": false, "zero": false},
             "axis": {"values": [3700,3750,3800,3850,3900,3950,4000,4050,4100,4150,4200,4250,4300], "format": "d", "title": "Wavelength (Angstroms)", "labelPadding": 4, "titlePadding": 7}},
       "y": {"field": "f", "type": "quantitative", "scale": {"domain": [0, 3], "nice": false, "zero": false},
             "axis": {"values": [0,0.2,0.4,0.6,0.8,1,1.2,1.4,1.6,1.8,2,2.2,2.4,2.6,2.8,3], "labelExpr": "datum.value == 0 ? '0' : (datum.value < 1 ? replace(format(datum.value, '.1f'), '0.', '.') : format(datum.value, '.1f'))", "title": "Flux / 10⁻¹⁶", "labelPadding": 11, "titlePadding": 4}}
     }},
    {"data": {"name": "modz"}, "mark": {"type": "line", "color": "#ff4444", "strokeWidth": 0.8, "opacity": 0.8, "clip": true},
     "encoding": {"x": {"field": "w", "type": "quantitative", "axis": null}, "y": {"field": "f", "type": "quantitative", "axis": null}}},
    {"data": {"name": "modz"}, "mark": {"type": "line", "opacity": 0},
     "encoding": {
       "x": {"field": "w", "type": "quantitative", "axis": {"orient": "top", "labels": false, "title": null, "domain": false, "values": [3750,3800,3850,3900,3950,4000,4050,4100,4150,4200,4250]}},
       "y": {"field": "f", "type": "quantitative", "axis": {"orient": "right", "labels": false, "title": null, "domain": false, "values": [0.2,0.4,0.6,0.8,1,1.2,1.4,1.6,1.8,2,2.2,2.4,2.6,2.8]}}
     }}
  ],
  "resolve": {"axis": {"x": "independent", "y": "independent"}}
}
]
}
